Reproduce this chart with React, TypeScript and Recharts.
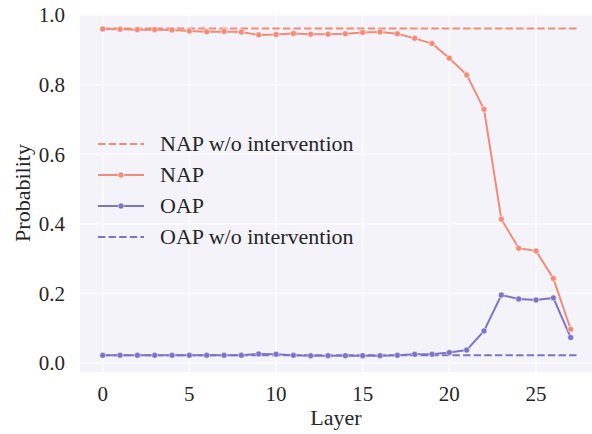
import { LineChart, Line, XAxis, YAxis, CartesianGrid, Label } from 'recharts'

const layers = [0, 1, 2, 3, 4, 5, 6, 7, 8, 9, 10, 11, 12, 13, 14, 15, 16, 17, 18, 19, 20, 21, 22, 23, 24, 25, 26, 27]
const nap = [0.96, 0.959, 0.958, 0.958, 0.957, 0.954, 0.952, 0.953, 0.951, 0.943, 0.944, 0.947, 0.945, 0.945, 0.946, 0.95, 0.951, 0.946, 0.933, 0.918, 0.876, 0.828, 0.729, 0.413, 0.33, 0.322, 0.243, 0.097]
const oap = [0.022, 0.022, 0.022, 0.022, 0.022, 0.022, 0.022, 0.022, 0.022, 0.026, 0.025, 0.022, 0.021, 0.021, 0.021, 0.021, 0.021, 0.022, 0.025, 0.025, 0.03, 0.037, 0.092, 0.195, 0.184, 0.181, 0.187, 0.073]
const napBaseline = 0.961
const oapBaseline = 0.022
const baselineSpan = [0, 27.5]
const xTicks = [0, 5, 10, 15, 20, 25]
const yTicks = [0, 0.2, 0.4, 0.6, 0.8, 1.0]

const NAP_COLOR = '#F48B78'
const OAP_COLOR = '#7A75C7'
const FONT = 'Liberation Serif, Tinos, Times New Roman, DejaVu Serif, serif'

const data = layers.map((layer, i) => ({ layer, nap: nap[i], oap: oap[i] }))
const napBase = baselineSpan.map((layer) => ({ layer, v: napBaseline }))
const oapBase = baselineSpan.map((layer) => ({ layer, v: oapBaseline }))

const legendItems = [
  { name: 'NAP w/o intervention', color: NAP_COLOR, dashed: true },
  { name: 'NAP', color: NAP_COLOR, dashed: false },
  { name: 'OAP', color: OAP_COLOR, dashed: false },
  { name: 'OAP w/o intervention', color: OAP_COLOR, dashed: true },
]

function ChartLegend() {
  return (
    <div style={{ position: 'absolute', left: 98, top: 128.5, fontFamily: FONT, fontSize: 22, color: '#262626' }}>
      {legendItems.map((item) => (
        <div key={item.name} style={{ display: 'flex', alignItems: 'center', height: 30.9 }}>
          <svg width={46} height={10} style={{ display: 'block' }}>
            <line
              x1={0}
              x2={46}
              y1={5}
              y2={5}
              stroke={item.color}
              strokeWidth={2}
              strokeDasharray={item.dashed ? '7.4 3.2' : undefined}
            />
            {!item.dashed && <circle cx={23} cy={5} r={3} fill={item.color} stroke="#fff" strokeWidth={0.5} />}
          </svg>
          <span style={{ marginLeft: 16, lineHeight: '30px' }}>{item.name}</span>
        </div>
      ))}
    </div>
  )
}

const tickStyle = { fontFamily: FONT, fontSize: 21, fill: '#262626', style: { fontFamily: FONT } }

export default function App() {
  return (
    <div style={{ position: 'absolute', left: 0, top: 0, width: 592, height: 434, background: '#fff', fontFamily: FONT }}>
      <LineChart width={592} height={434} data={data} margin={{ top: 14, right: 0, bottom: 0, left: 0 }} style={{ fontFamily: FONT }}>
        <CartesianGrid fill="#F4F3F9" stroke="#ffffff" strokeWidth={1.3} horizontalValues={yTicks} verticalValues={xTicks} />
        <XAxis
          type="number"
          dataKey="layer"
          domain={[-1.31, 28.23]}
          allowDataOverflow
          ticks={xTicks}
          axisLine={false}
          tickLine={false}
          tickSize={0}
          tickMargin={14}
          height={62}
          tick={tickStyle}
          interval={0}
        >
          <Label
            content={(props: any) => {
              const vb = props.viewBox
              return (
                <text x={vb.x + vb.width / 2} y={425} textAnchor="middle" style={{ fontFamily: FONT }} fontSize={22} fill="#262626">
                  Layer
                </text>
              )
            }}
          />
        </XAxis>
        <YAxis
          type="number"
          domain={[-0.026, 1.003]}
          allowDataOverflow
          ticks={yTicks}
          tickFormatter={(v: number) => v.toFixed(1)}
          axisLine={false}
          tickLine={false}
          tickSize={0}
          tickMargin={15}
          width={80}
          tick={tickStyle}
          interval={0}
        >
          <Label
            content={(props: any) => {
              const vb = props.viewBox
              const cy = vb.y + vb.height / 2
              return (
                <text
                  x={30}
                  y={cy}
                  transform={`rotate(-90, 30, ${cy})`}
                  textAnchor="middle"
                  style={{ fontFamily: FONT }}
                  fontSize={22}
                  fill="#262626"
                >
                  Probability
                </text>
              )
            }}
          />
        </YAxis>
        <Line
          data={napBase}
          dataKey="v"
          stroke={NAP_COLOR}
          strokeWidth={2}
          strokeDasharray="7.4 3.2"
          dot={false}
          activeDot={false}
          isAnimationActive={false}
        />
        <Line
          data={oapBase}
          dataKey="v"
          stroke={OAP_COLOR}
          strokeWidth={2}
          strokeDasharray="7.4 3.2"
          dot={false}
          activeDot={false}
          isAnimationActive={false}
        />
        <Line
          dataKey="nap"
          stroke={NAP_COLOR}
          strokeWidth={2}
          dot={{ r: 3, fill: NAP_COLOR, stroke: '#fff', strokeWidth: 0.5 }}
          activeDot={false}
          isAnimationActive={false}
        />
        <Line
          dataKey="oap"
          stroke={OAP_COLOR}
          strokeWidth={2}
          dot={{ r: 3, fill: OAP_COLOR, stroke: '#fff', strokeWidth: 0.5 }}
          activeDot={false}
          isAnimationActive={false}
        />
      </LineChart>
      <ChartLegend />
    </div>
  )
}
